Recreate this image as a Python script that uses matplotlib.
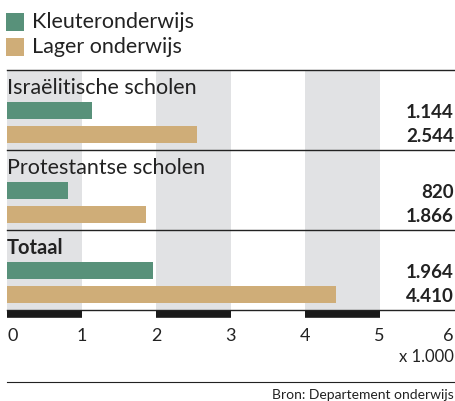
import matplotlib
matplotlib.use("Agg")
import matplotlib.pyplot as plt

groups = ["Israëlitische scholen", "Protestantse scholen", "Totaal"]
kleuter = [1144, 820, 1964]
lager = [2544, 1866, 4410]
kleuter_labels = ["1.144", "820", "1.964"]
lager_labels = ["2.544", "1.866", "4.410"]
ticks = [0, 1, 2, 3, 4, 5, 6]
series_names = ["Kleuteronderwijs", "Lager onderwijs"]

green = "#58917a"
tan = "#cfad78"
band = "#e1e2e4"
ink = "#222222"

plt.rcParams["font.family"] = ["Lato", "DejaVu Sans"]

fig = plt.figure(figsize=(4.55, 4.01), dpi=100)
ax = fig.add_axes([0, 0, 1, 1])
# x in thousands, y in pixel rows (top = 0)
ax.set_xlim(-7 / 74.5, 448 / 74.5)
ax.set_ylim(401, 0)
ax.axis("off")

# alternating grey bands + black bars under the axis
for i in range(0, 6, 2):
    ax.axvspan(i, i + 1, ymin=(401 - 310) / 401, ymax=(401 - 70) / 401,
               color=band, lw=0, zorder=0)
    ax.plot([i, i + 1], [314, 314], color="#1a1a1a", lw=5.5,
            solid_capstyle="butt", zorder=3)

# horizontal rules
for y in (70, 150, 230, 310):
    ax.plot([0, 6.02], [y, y], color=ink, lw=1, zorder=3)
ax.plot([0, 6.02], [382, 382], color=ink, lw=0.8, zorder=3)

for i, name in enumerate(groups):
    top = 70 + 80 * i
    bold = name == "Totaal"
    ax.text(0, top + 18, name, fontsize=14.5 if bold else 15.5, va="center",
            ha="left", fontweight="bold" if bold else "normal", color=ink)
    ax.barh(top + 40, kleuter[i] / 1000, height=17, left=0, color=green, zorder=2)
    ax.barh(top + 64.5, lager[i] / 1000, height=17, left=0, color=tan, zorder=2)
    ax.text(6.0, top + 43, kleuter_labels[i], fontsize=13.5, fontweight="bold",
            ha="right", va="center", color=ink)
    ax.text(6.0, top + 67, lager_labels[i], fontsize=13.5, fontweight="bold",
            ha="right", va="center", color=ink)

for t in ticks:
    ha = "left" if t == 0 else ("right" if t == 6 else "center")
    ax.text(t, 336, str(t), fontsize=13, ha=ha, va="center", color=ink)
ax.text(6.0, 357, "x 1.000", fontsize=12, ha="right", va="center", color=ink)
ax.text(6.0, 395, "Bron: Departement onderwijs", fontsize=10, ha="right",
        va="center", color=ink)

# legend
for j, (name, col) in enumerate(zip(series_names, [green, tan])):
    y = 21.5 + 25.5 * j
    ax.scatter([15 / 74.5 - 7 / 74.5], [y], marker="s", s=150, color=col, lw=0)
    ax.text(32 / 74.5 - 7 / 74.5, y, name, fontsize=15.5, ha="left", va="center",
            color=ink)

fig.savefig("out.png", dpi=100)
